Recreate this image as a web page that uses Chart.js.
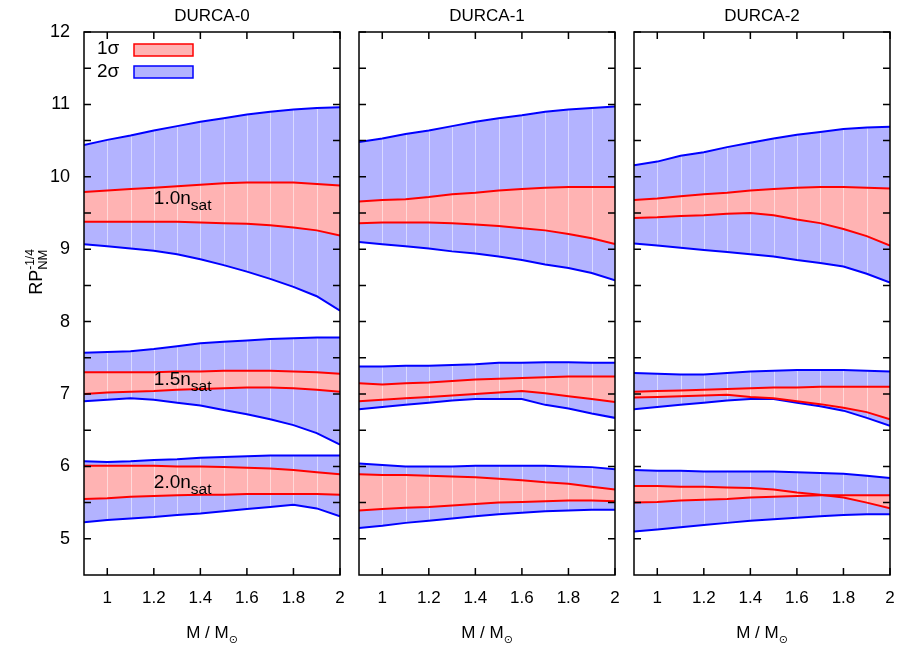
<!DOCTYPE html>
<html lang="en">
<head>
<meta charset="UTF-8">
<title>DURCA bands</title>
<script src="https://cdn.jsdelivr.net/npm/chart.js"></script>
<style>
  body { margin: 0; background: #fff; overflow: hidden; }
  #wrap { position: relative; width: 902px; height: 647px; overflow: hidden; }
  canvas { position: absolute; top: 0; }
</style>
</head>
<body>
<div id="wrap">
  <canvas id="c0" width="358" height="647" style="left:0px"></canvas>
  <canvas id="c1" width="283" height="647" style="left:350px"></canvas>
  <canvas id="c2" width="283" height="647" style="left:625px"></canvas>
</div>
<script>
// x values (M / Msun) shared by every curve
const mass = [0.9, 1.0, 1.1, 1.2, 1.3, 1.4, 1.5, 1.6, 1.7, 1.8, 1.9, 2.0];
const xTicks = [1, 1.2, 1.4, 1.6, 1.8, 2];
const yTicks = [5, 5.5, 6, 6.5, 7, 7.5, 8, 8.5, 9, 9.5, 10, 10.5, 11, 11.5, 12];
const panelTitles = ['DURCA-0', 'DURCA-1', 'DURCA-2'];
const densityNames = ['1.0', '1.5', '2.0'];
const densityLabelX = [1.2, 1.2, 1.2];
const densityLabelY = [9.62, 7.12, 5.70];

// DURCA-0
const d0_n10_hi2 = [10.44, 10.51, 10.57, 10.64, 10.70, 10.76, 10.81, 10.86, 10.90, 10.93, 10.95, 10.96];
const d0_n10_hi1 = [9.79, 9.81, 9.83, 9.85, 9.87, 9.89, 9.91, 9.92, 9.92, 9.92, 9.90, 9.88];
const d0_n10_lo1 = [9.38, 9.38, 9.38, 9.38, 9.38, 9.37, 9.36, 9.35, 9.33, 9.30, 9.26, 9.19];
const d0_n10_lo2 = [9.07, 9.04, 9.01, 8.98, 8.93, 8.86, 8.78, 8.69, 8.59, 8.48, 8.35, 8.15];
const d0_n15_hi2 = [7.57, 7.58, 7.59, 7.62, 7.66, 7.70, 7.72, 7.74, 7.76, 7.77, 7.78, 7.78];
const d0_n15_hi1 = [7.30, 7.30, 7.30, 7.30, 7.31, 7.31, 7.32, 7.32, 7.32, 7.31, 7.30, 7.28];
const d0_n15_lo1 = [7.00, 7.02, 7.03, 7.04, 7.06, 7.07, 7.08, 7.09, 7.09, 7.08, 7.06, 7.03];
const d0_n15_lo2 = [6.90, 6.92, 6.94, 6.92, 6.88, 6.84, 6.78, 6.72, 6.65, 6.57, 6.46, 6.30];
const d0_n20_hi2 = [6.07, 6.06, 6.07, 6.09, 6.10, 6.12, 6.13, 6.14, 6.15, 6.15, 6.15, 6.15];
const d0_n20_hi1 = [6.01, 6.01, 6.01, 6.01, 6.00, 6.00, 5.99, 5.98, 5.97, 5.95, 5.92, 5.89];
const d0_n20_lo1 = [5.55, 5.56, 5.58, 5.59, 5.60, 5.61, 5.61, 5.62, 5.62, 5.62, 5.62, 5.61];
const d0_n20_lo2 = [5.23, 5.26, 5.28, 5.30, 5.33, 5.35, 5.38, 5.41, 5.44, 5.47, 5.42, 5.31];

// DURCA-1
const d1_n10_hi2 = [10.48, 10.53, 10.59, 10.64, 10.70, 10.76, 10.81, 10.85, 10.90, 10.93, 10.95, 10.97];
const d1_n10_hi1 = [9.66, 9.68, 9.69, 9.72, 9.76, 9.78, 9.81, 9.83, 9.85, 9.86, 9.86, 9.86];
const d1_n10_lo1 = [9.36, 9.37, 9.37, 9.37, 9.36, 9.34, 9.32, 9.29, 9.26, 9.21, 9.15, 9.07];
const d1_n10_lo2 = [9.10, 9.07, 9.04, 9.01, 8.97, 8.94, 8.90, 8.85, 8.79, 8.74, 8.67, 8.57];
const d1_n15_hi2 = [7.38, 7.38, 7.39, 7.39, 7.40, 7.41, 7.43, 7.43, 7.44, 7.44, 7.43, 7.43];
const d1_n15_hi1 = [7.15, 7.13, 7.15, 7.16, 7.18, 7.20, 7.21, 7.22, 7.23, 7.24, 7.24, 7.24];
const d1_n15_lo1 = [6.90, 6.92, 6.94, 6.96, 6.98, 7.00, 7.02, 7.04, 7.01, 6.97, 6.93, 6.89];
const d1_n15_lo2 = [6.79, 6.82, 6.85, 6.88, 6.91, 6.93, 6.93, 6.93, 6.85, 6.80, 6.73, 6.67];
const d1_n20_hi2 = [6.04, 6.02, 6.00, 6.00, 6.00, 6.01, 6.01, 6.01, 6.01, 6.00, 5.99, 5.96];
const d1_n20_hi1 = [5.89, 5.88, 5.88, 5.87, 5.86, 5.85, 5.83, 5.81, 5.78, 5.76, 5.72, 5.68];
const d1_n20_lo1 = [5.39, 5.41, 5.43, 5.44, 5.46, 5.48, 5.50, 5.51, 5.52, 5.53, 5.53, 5.52];
const d1_n20_lo2 = [5.15, 5.18, 5.22, 5.25, 5.28, 5.31, 5.34, 5.36, 5.38, 5.39, 5.40, 5.40];

// DURCA-2
const d2_n10_hi2 = [10.16, 10.21, 10.29, 10.34, 10.41, 10.47, 10.53, 10.58, 10.62, 10.66, 10.68, 10.69];
const d2_n10_hi1 = [9.68, 9.70, 9.73, 9.76, 9.78, 9.81, 9.83, 9.85, 9.86, 9.86, 9.85, 9.84];
const d2_n10_lo1 = [9.43, 9.44, 9.46, 9.47, 9.49, 9.50, 9.47, 9.41, 9.36, 9.28, 9.18, 9.05];
const d2_n10_lo2 = [9.08, 9.05, 9.02, 8.99, 8.96, 8.93, 8.90, 8.85, 8.81, 8.76, 8.66, 8.54];
const d2_n15_hi2 = [7.29, 7.28, 7.27, 7.27, 7.29, 7.31, 7.32, 7.33, 7.33, 7.33, 7.32, 7.31];
const d2_n15_hi1 = [7.03, 7.04, 7.05, 7.06, 7.07, 7.08, 7.09, 7.09, 7.10, 7.10, 7.10, 7.10];
const d2_n15_lo1 = [6.95, 6.96, 6.97, 6.98, 6.99, 6.96, 6.94, 6.90, 6.86, 6.81, 6.75, 6.65];
const d2_n15_lo2 = [6.79, 6.82, 6.85, 6.88, 6.91, 6.93, 6.93, 6.88, 6.83, 6.77, 6.67, 6.56];
const d2_n20_hi2 = [5.95, 5.94, 5.94, 5.93, 5.93, 5.93, 5.93, 5.92, 5.91, 5.90, 5.87, 5.84];
const d2_n20_hi1 = [5.73, 5.73, 5.72, 5.72, 5.71, 5.70, 5.68, 5.64, 5.61, 5.57, 5.50, 5.42];
const d2_n20_lo1 = [5.50, 5.51, 5.53, 5.54, 5.55, 5.57, 5.58, 5.59, 5.60, 5.60, 5.60, 5.60];
const d2_n20_lo2 = [5.10, 5.13, 5.16, 5.19, 5.22, 5.25, 5.27, 5.29, 5.31, 5.33, 5.34, 5.34];

const RED = '#ff0000', PINK = '#ffb3b3', BLUE = '#0000ff', LBLUE = '#b3b3ff';
const FONT = '"Liberation Sans", Arial, "DejaVu Sans", sans-serif';

function pts(arr) {
    return arr.map((v, i) => ({ x: mass[i], y: v }));
}

// 1 sigma band first so it ends up painted over the 2 sigma band
function band(hi1, lo1, hi2, lo2) {
    const common = { pointRadius: 0, borderWidth: 2, tension: 0 };
    return [
        { ...common, data: pts(hi1), borderColor: RED, backgroundColor: PINK, fill: '+1' },
        { ...common, data: pts(lo1), borderColor: RED, fill: false },
        { ...common, data: pts(hi2), borderColor: BLUE, backgroundColor: LBLUE, fill: '+1' },
        { ...common, data: pts(lo2), borderColor: BLUE, fill: false }
    ];
}

const panelData = [
    [band(d0_n10_hi1, d0_n10_lo1, d0_n10_hi2, d0_n10_lo2),
     band(d0_n15_hi1, d0_n15_lo1, d0_n15_hi2, d0_n15_lo2),
     band(d0_n20_hi1, d0_n20_lo1, d0_n20_hi2, d0_n20_lo2)],
    [band(d1_n10_hi1, d1_n10_lo1, d1_n10_hi2, d1_n10_lo2),
     band(d1_n15_hi1, d1_n15_lo1, d1_n15_hi2, d1_n15_lo2),
     band(d1_n20_hi1, d1_n20_lo1, d1_n20_hi2, d1_n20_lo2)],
    [band(d2_n10_hi1, d2_n10_lo1, d2_n10_hi2, d2_n10_lo2),
     band(d2_n15_hi1, d2_n15_lo1, d2_n15_hi2, d2_n15_lo2),
     band(d2_n20_hi1, d2_n20_lo1, d2_n20_hi2, d2_n20_lo2)]
];

// text with a sub- or superscript part
function richText(ctx, x, y, main, mainSize, parts) {
    ctx.font = mainSize + 'px ' + FONT;
    ctx.fillText(main, x, y);
    const w = ctx.measureText(main).width;
    parts.forEach(p => {
        ctx.font = p.size + 'px ' + FONT;
        ctx.fillText(p.text, x + w, y + p.dy);
    });
}

function measureRich(ctx, main, mainSize, parts) {
    ctx.font = mainSize + 'px ' + FONT;
    const w = ctx.measureText(main).width;
    let maxW = 0;
    parts.forEach(p => {
        ctx.font = p.size + 'px ' + FONT;
        maxW = Math.max(maxW, ctx.measureText(p.text).width);
    });
    return w + maxW;
}

const gnuplotLook = {
    id: 'gnuplotLook',
    beforeDatasetsDraw(chart) {
        // thin pale lines across the filled bands at each sample
        const { ctx, chartArea: a, scales: { x } } = chart;
        ctx.save();
        ctx.strokeStyle = 'rgba(255,255,255,0.5)';
        ctx.lineWidth = 1;
        ctx.beginPath();
        mass.slice(1, -1).forEach(m => {
            const px = Math.round(x.getPixelForValue(m)) + 0.5;
            ctx.moveTo(px, a.top);
            ctx.lineTo(px, a.bottom);
        });
        ctx.stroke();
        ctx.restore();
    },
    afterDatasetsDraw(chart) {
        const { ctx, chartArea: a, scales: { x, y } } = chart;
        ctx.save();
        ctx.strokeStyle = '#000';
        ctx.lineWidth = 1.5;
        ctx.beginPath();
        x.ticks.forEach(t => {
            const px = x.getPixelForValue(t.value);
            ctx.moveTo(px, a.bottom); ctx.lineTo(px, a.bottom - 7);
            ctx.moveTo(px, a.top); ctx.lineTo(px, a.top + 7);
        });
        y.ticks.forEach(t => {
            const py = y.getPixelForValue(t.value);
            ctx.moveTo(a.left, py); ctx.lineTo(a.left + 7, py);
            ctx.moveTo(a.right, py); ctx.lineTo(a.right - 7, py);
        });
        ctx.stroke();
        ctx.strokeRect(a.left, a.top, a.right - a.left, a.bottom - a.top);
        ctx.restore();
    },
    afterDraw(chart, args, opts) {
        const { ctx, chartArea: a, scales: { x, y } } = chart;
        const cx = (a.left + a.right) / 2;
        ctx.save();
        ctx.fillStyle = '#000';
        ctx.textBaseline = 'alphabetic';
        ctx.textAlign = 'left';

        // panel title
        ctx.font = '17px ' + FONT;
        ctx.textAlign = 'center';
        ctx.fillText(opts.title, cx, 21);
        ctx.textAlign = 'left';

        // x axis title  M / M_sun
        const xParts = [{ text: '\u2299', size: 11, dy: 5 }];
        const xw = measureRich(ctx, 'M / M', 17, xParts);
        richText(ctx, cx - xw / 2, 638, 'M / M', 17, xParts);

        if (opts.first) {
            // y axis title
            const yParts = [{ text: '-1/4', size: 12, dy: -8 }, { text: 'NM', size: 13, dy: 5 }];
            const yw = measureRich(ctx, 'RP', 18, yParts);
            ctx.save();
            ctx.translate(42, 272);
            ctx.rotate(-Math.PI / 2);
            richText(ctx, -yw / 2, 0, 'RP', 18, yParts);
            ctx.restore();

            // legend
            ctx.font = '19px ' + FONT;
            ctx.textBaseline = 'middle';
            ctx.fillText('1\u03c3', a.left + 13, a.top + 17);
            ctx.fillText('2\u03c3', a.left + 13, a.top + 40);
            ctx.lineWidth = 1.5;
            ctx.fillStyle = PINK; ctx.strokeStyle = RED;
            ctx.fillRect(a.left + 50, a.top + 12, 59, 12);
            ctx.strokeRect(a.left + 50, a.top + 12, 59, 12);
            ctx.fillStyle = LBLUE; ctx.strokeStyle = BLUE;
            ctx.fillRect(a.left + 50, a.top + 34, 59, 12);
            ctx.strokeRect(a.left + 50, a.top + 34, 59, 12);

            // density labels
            ctx.fillStyle = '#000';
            ctx.textBaseline = 'alphabetic';
            densityNames.forEach((d, i) => {
                const px = x.getPixelForValue(densityLabelX[i]);
                const py = y.getPixelForValue(densityLabelY[i]);
                richText(ctx, px, py, d + 'n', 19, [{ text: 'sat', size: 15.5, dy: 6 }]);
            });
        }
        ctx.restore();
    }
};

function makePanel(idx) {
    const first = idx === 0;
    // right padding 18 = room Chart.js reserves for the last x label
    const pad = [
        { top: 32, left: 0, right: 18, bottom: 0 },
        { top: 32, left: 9, right: 18, bottom: 0 },
        { top: 32, left: 9, right: 18, bottom: 0 }
    ][idx];
    const datasets = [].concat(...panelData[idx]);
    new Chart(document.getElementById('c' + idx), {
        type: 'line',
        data: { datasets: datasets },
        options: {
            responsive: false,
            animation: false,
            devicePixelRatio: 1,
            layout: { padding: pad },
            plugins: {
                legend: { display: false },
                tooltip: { enabled: false },
                filler: { drawTime: 'beforeDatasetsDraw' },
                gnuplotLook: { title: panelTitles[idx], first: first }
            },
            scales: {
                x: {
                    type: 'linear',
                    min: 0.9,
                    max: 2,
                    afterBuildTicks: s => { s.ticks = xTicks.map(v => ({ value: v })); },
                    afterFit: s => { s.height = 72; },
                    grid: { display: false, drawTicks: false },
                    border: { display: false },
                    ticks: {
                        padding: 13,
                        color: '#000',
                        font: { family: FONT, size: 17 },
                        maxRotation: 0,
                        autoSkip: false,
                        callback: v => String(v)
                    }
                },
                y: {
                    type: 'linear',
                    min: 4.5,
                    max: 12,
                    afterBuildTicks: s => { s.ticks = yTicks.map(v => ({ value: v })); },
                    afterFit: s => { s.width = first ? 84 : 0; },
                    grid: { display: false, drawTicks: false },
                    border: { display: false },
                    ticks: {
                        display: first,
                        padding: 14,
                        color: '#000',
                        font: { family: FONT, size: 18 },
                        autoSkip: false,
                        callback: v => Number.isInteger(v) ? String(v) : ''
                    }
                }
            }
        },
        plugins: [gnuplotLook]
    });
}

[0, 1, 2].forEach(makePanel);
</script>
</body>
</html>
